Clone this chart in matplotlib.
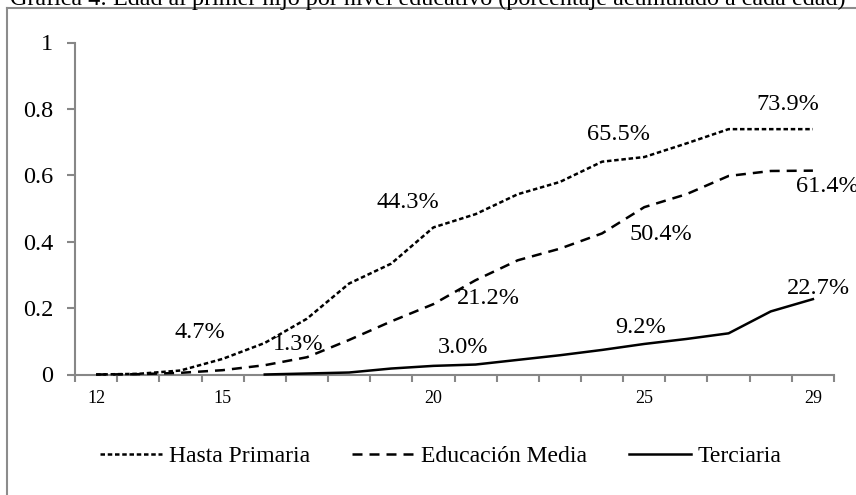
import numpy as np
import matplotlib
matplotlib.use("Agg")
from matplotlib import pyplot as plt
from matplotlib.lines import Line2D
from matplotlib.ticker import FuncFormatter

# data (share of women with a first child, cumulative)
ages = [12, 13, 14, 15, 16, 17, 18, 19, 20, 21, 22, 23, 24, 25, 26, 27, 28, 29]
hasta_primaria = [0.0, 0.002, 0.012, 0.047, 0.095, 0.168, 0.274, 0.334, 0.443, 0.483,
                  0.543, 0.580, 0.641, 0.655, 0.696, 0.739, 0.739, 0.739]
educacion_media = [0.0, 0.001, 0.005, 0.013, 0.028, 0.052, 0.104, 0.160, 0.212, 0.284,
                   0.344, 0.379, 0.425, 0.504, 0.543, 0.598, 0.613, 0.614]
terciaria = [np.nan, np.nan, np.nan, np.nan, 0.0, 0.003, 0.006, 0.018, 0.026, 0.030,
             0.044, 0.058, 0.074, 0.092, 0.107, 0.124, 0.190, 0.227]
series_names = ["Hasta Primaria", "Educación Media", "Terciaria"]
xtick_ages = [12, 15, 20, 25, 29]
yticks = [0, 0.2, 0.4, 0.6, 0.8, 1]
title = "Gráfica 4: Edad al primer hijo por nivel educativo (porcentaje acumulado a cada edad)"

# which points get a data label (series index, age)
labelled = [(0, 15), (0, 20), (0, 25), (0, 29),
            (1, 15), (1, 20), (1, 25), (1, 29),
            (2, 21), (2, 25), (2, 29)]
# label offsets from the point, in pixels (right, up)
label_offsets = [(-23, 26), (-26, 25), (-26, 23), (-25, 25),
                 (76, 26), (55, 6), (17, -27), (14, -16),
                 (-13, 17), (-4, 16), (6, 11)]

plt.rcParams['font.family'] = ['Liberation Serif', 'DejaVu Serif']
W, H = 856, 495
DPI = 100
px = 72.0 / DPI  # pixels -> points
grey = "#878787"

fig = plt.figure(figsize=(W / DPI, H / DPI), dpi=DPI)
ax = fig.add_axes([75 / W, 1 - 374.5 / H, (834 - 75) / W, (374.5 - 42.5) / H])

data = [hasta_primaria, educacion_media, terciaria]
lw = 1.8
styles = [(0, (1.8, 1.1)), (0, (4.0, 2.8)), "-"]
for vals, ls, name in zip(data, styles, series_names):
    ax.plot(ages, vals, color="black", lw=lw, linestyle=ls, label=name,
            clip_on=False, zorder=3)

for (si, age), (dx, dy) in zip(labelled, label_offsets):
    v = data[si][ages.index(age)]
    ax.annotate(f"{v * 100:.1f}%", (age, v), xytext=(dx * px, dy * px),
                textcoords="offset points", ha="center", va="center",
                fontsize=17.5, annotation_clip=False, zorder=4)

ax.set_xlim(11.5, 29.5)
ax.set_ylim(0, 1)
ax.set_yticks(yticks)
ax.yaxis.set_major_formatter(FuncFormatter(lambda v, _: f"{v:g}"))
ax.set_xticks(np.arange(11.5, 30, 1))
ax.set_xticklabels([])
ax.set_xticks(xtick_ages, minor=True)
ax.set_xticklabels([str(a) for a in xtick_ages], minor=True)

for s in ["top", "right"]:
    ax.spines[s].set_visible(False)
for s in ["left", "bottom"]:
    ax.spines[s].set_color(grey)
    ax.spines[s].set_linewidth(1.5)
ax.tick_params(axis="y", direction="out", length=8 * px, width=1.5, color=grey,
               labelsize=17.5, pad=10)
ax.tick_params(axis="x", which="major", direction="out", length=7 * px, width=1.5,
               color=grey)
ax.tick_params(axis="x", which="minor", length=0, labelsize=13, pad=11)
ax.patch.set_alpha(0)

# legend along the bottom
handles = [Line2D([], [], color="black", lw=lw, linestyle=ls) for ls in styles]
fig.legend(handles, series_names, loc="center", bbox_to_anchor=(441 / W, 1 - 456 / H),
           ncol=3, frameon=False, fontsize=17, handlelength=2.6, handletextpad=0.3,
           columnspacing=1.8)

# chart border (cut by the image edges) and the half-visible title above it
fig.add_artist(Line2D([6.7 / W, 1.0], [1 - 8.3 / H] * 2, color="#8c8c8c", lw=1.5,
                      transform=fig.transFigure))
fig.add_artist(Line2D([6.7 / W] * 2, [0.0, 1 - 8.3 / H], color="#8c8c8c", lw=1.5,
                      transform=fig.transFigure))
fig.text(10 / W, 1 - 4.5 / H, title, fontsize=17.4, va="baseline", ha="left")

fig.savefig("out.png", dpi=DPI)
